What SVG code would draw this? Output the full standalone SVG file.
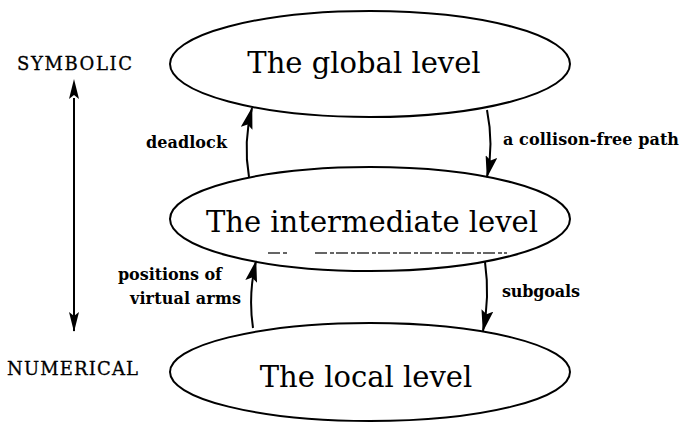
<svg xmlns="http://www.w3.org/2000/svg" width="680" height="423" viewBox="0 0 680 423">
  <style>
    .lvl { fill: #fff; stroke: #000; stroke-width: 2; }
    .big { font-family: "DejaVu Serif", "Liberation Serif", serif; font-size: 29px; fill: #000; text-anchor: middle; }
    .side { font-family: "DejaVu Serif", "Liberation Serif", serif; font-size: 18px; fill: #000; stroke: #000; stroke-width: 0.3; }
    .lbl { font-family: "DejaVu Serif", "Liberation Serif", serif; font-size: 16px; font-weight: bold; fill: #000; }
    .conn { fill: none; stroke: #000; stroke-width: 2; }
  </style>
  <defs>
    <marker id="ah" markerUnits="userSpaceOnUse" viewBox="0 0 22 12" refX="21" refY="6" markerWidth="22" markerHeight="12" orient="auto">
      <path d="M0,0 L22,6 L0,12 L4,6 z" fill="#000"/>
    </marker>
    <marker id="ahs" markerUnits="userSpaceOnUse" viewBox="0 0 20 10" refX="1" refY="5" markerWidth="20" markerHeight="10" orient="auto-start-reverse">
      <path d="M0,0 L20,5 L0,10 L4,5 z" fill="#000"/>
    </marker>
    <marker id="ahe" markerUnits="userSpaceOnUse" viewBox="0 0 20 10" refX="19" refY="5" markerWidth="20" markerHeight="10" orient="auto">
      <path d="M0,0 L20,5 L0,10 L4,5 z" fill="#000"/>
    </marker>
  </defs>

  <g id="global">
    <ellipse class="lvl" cx="370" cy="64" rx="200" ry="53"/>
    <text class="big" x="364" y="73">The global level</text>
  </g>
  <g id="intermediate">
    <ellipse class="lvl" cx="370" cy="219" rx="200" ry="52"/>
    <text class="big" x="372" y="232">The intermediate level</text>
    <path d="M268,253 H288 M315,253 H507" stroke="#333" stroke-width="1.3" stroke-dasharray="12 3 4 2" fill="none"/>
  </g>
  <g id="local">
    <ellipse class="lvl" cx="370" cy="372" rx="200" ry="49"/>
    <text class="big" x="366" y="387">The local level</text>
  </g>
  <g id="symbolic">
    <text class="side" x="17" y="70" textLength="115" lengthAdjust="spacing">SYMBOLIC</text>
  </g>
  <g id="numerical">
    <text class="side" x="7" y="375" textLength="131" lengthAdjust="spacing">NUMERICAL</text>
  </g>

  <g id="connectors">
    <line class="conn" x1="74" y1="98" x2="74" y2="331" stroke-width="1.6" marker-start="url(#ahs)" marker-end="url(#ahe)"/>
    <path class="conn" d="M249,177 Q243,142 252,108" marker-end="url(#ah)"/>
    <path class="conn" d="M487,110 Q494,145 487,177" marker-end="url(#ah)"/>
    <path class="conn" d="M253,328 Q248,295 256,261" marker-end="url(#ah)"/>
    <path class="conn" d="M485,262 Q490,298 483,331" marker-end="url(#ah)"/>
    <text class="lbl" x="146" y="148" textLength="81" lengthAdjust="spacing">deadlock</text>
    <text class="lbl" x="503" y="145" textLength="176" lengthAdjust="spacing">a collison-free path</text>
    <text class="lbl" x="118" y="280" textLength="104" lengthAdjust="spacing">positions of</text>
    <text class="lbl" x="130" y="304" textLength="111" lengthAdjust="spacing">virtual arms</text>
    <text class="lbl" x="502" y="297" textLength="78" lengthAdjust="spacing">subgoals</text>
  </g>
</svg>
